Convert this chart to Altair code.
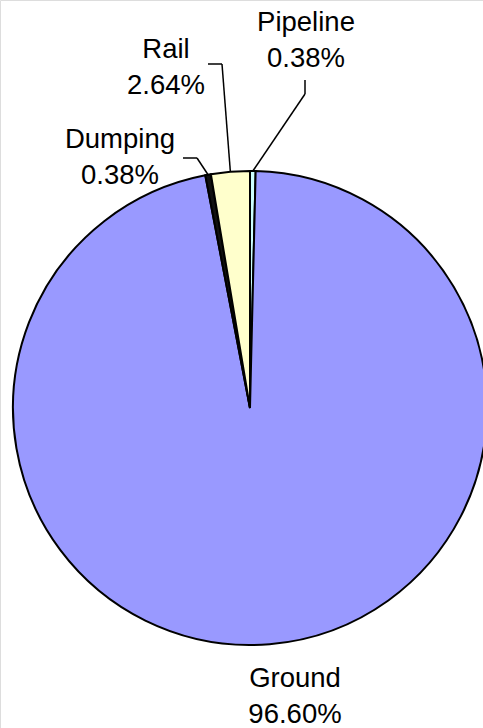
import math
import altair as alt
import pandas as pd

# Data (clockwise from 12 o'clock)
categories = ["Pipeline", "Ground", "Dumping", "Rail"]
shares = [0.38, 96.60, 0.38, 2.64]
colors = ["#CCFFFF", "#9999FF", "#111111", "#FFFFCC"]
pct_labels = ["0.38%", "96.60%", "0.38%", "2.64%"]

# Layout constants
W, H = 483, 728
CX, CY, R = 250, 408, 237
FONT = "Liberation Sans"
FS = 27.5
# label anchor (center x, baseline of first line), line spacing
label_pos = {"Pipeline": (306, 31), "Rail": (166, 58), "Dumping": (120, 148), "Ground": (295, 687)}
LINE_GAP = 36
# leader bends (label-side points) for small slices
leader_bends = {
    "Pipeline": [(305, 80), (305, 94)],
    "Rail": [(208, 64), (222, 64)],
    "Dumping": [(183, 158), (197, 158)],
}

pie_df = pd.DataFrame({"cat": categories, "value": shares, "order": list(range(len(categories)))})

pie = alt.Chart(pie_df).mark_arc(radius=R, stroke="black", strokeWidth=2).encode(
    theta=alt.Theta("value:Q", stack=True),
    order=alt.Order("order:Q"),
    color=alt.Color("cat:N", scale=alt.Scale(domain=categories, range=colors), legend=None),
    x=alt.value(CX),
    y=alt.value(CY),
)

# text rows
trows = []
for c, p in zip(categories, pct_labels):
    x0, y0 = label_pos[c]
    trows.append({"x": x0, "y": y0, "t": c})
    trows.append({"x": x0, "y": y0 + LINE_GAP, "t": p})
text_df = pd.DataFrame(trows)
texts = alt.Chart(text_df).mark_text(
    font=FONT, fontSize=FS, color="black", align="center", baseline="alphabetic"
).encode(
    x=alt.X("x:Q", scale=None),
    y=alt.Y("y:Q", scale=None),
    text="t:N",
)

# leader segments: end on the arc at the slice's mid-angle
total = sum(shares)
cum = 0.0
mids = {}
for c, v in zip(categories, shares):
    mids[c] = (cum + v / 2) / total * 2 * math.pi
    cum += v
segs = []
for c, pts in leader_bends.items():
    a = mids[c]
    end = (CX + R * math.sin(a), CY - R * math.cos(a))
    chain = pts + [end]
    for (x1, y1), (x2, y2) in zip(chain[:-1], chain[1:]):
        segs.append({"x": x1, "y": y1, "x2": x2, "y2": y2})
seg_df = pd.DataFrame(segs)
leaders = alt.Chart(seg_df).mark_rule(color="black", strokeWidth=1.5).encode(
    x=alt.X("x:Q", scale=None),
    y=alt.Y("y:Q", scale=None),
    x2="x2:Q",
    y2="y2:Q",
)

chart = alt.layer(pie, leaders, texts).properties(
    width=W, height=H, padding=0, autosize=alt.AutoSizeParams(type="none")
).configure_view(stroke=None).configure(background="white")

chart.save("out.html", embed_options={"renderer": "svg", "actions": False})
